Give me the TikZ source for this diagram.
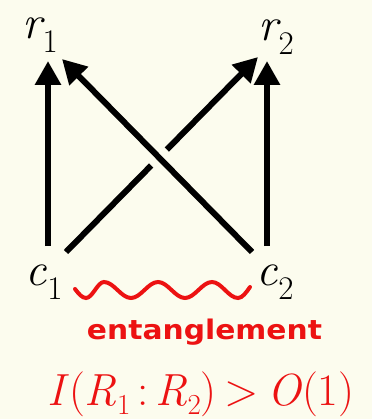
\documentclass[tikz,border=0pt]{standalone}
\usepackage{fontspec}
\newfontfamily\labsans{DejaVu Sans}
\usetikzlibrary{arrows.meta}
\definecolor{bgc}{RGB}{252,252,238}
\definecolor{myred}{RGB}{236,18,18}
\newcommand\varlab[2]{{\fontsize{47}{50}\selectfont\itshape #1}\kern1pt\raisebox{-14pt}{\fontsize{33}{35}\selectfont #2}}
\newcommand\fsub[1]{\raisebox{-9pt}{\fontsize{29}{31}\selectfont #1}}
\tikzset{
  arr/.style={line width=6pt, -{Triangle[length=24pt,width=25pt]}},
  lab/.style={inner sep=0pt, anchor=base west},
}
\begin{document}
\begin{tikzpicture}[x=1pt,y=-1pt]
\fill[bgc] (0,0) rectangle (372,419);
\useasboundingbox (0,0) rectangle (372,419);
% labels
\node[lab] (r1) at (22,39) {\varlab{r}{1}};
\node[lab] (r2) at (258,41) {\varlab{r}{2}};
\node[lab] (c1) at (25,285) {\varlab{c}{1}};
\node[lab] (c2) at (256,285) {\varlab{c}{2}};
% connector end points
\coordinate (c1v) at (48,246);
\coordinate (r1v) at (48,61);
\coordinate (c2v) at (267,246);
\coordinate (r2v) at (267,61);
\coordinate (c1d) at (66,252);
\coordinate (r2d) at (258,57);
\coordinate (c2d) at (252,252);
\coordinate (r1d) at (62,59);
% arrows
\draw[arr] (c1v) -- (r1v);
\draw[arr] (c2v) -- (r2v);
\draw[arr] (c1d) -- (r2d);
\draw[bgc, line width=22pt, shorten <=70pt, shorten >=70pt] (c2d) -- (r1d);
\draw[arr] (c2d) -- (r1d);
% entanglement wave
\coordinate (w0) at (75,289);
\coordinate (w1) at (250,287);
\draw[myred, line width=4pt, line cap=round]
  (w0) sin (86,298) cos (95,290) sin (104,282) cos (117.5,290) sin (131,298)
  cos (144.5,290) sin (158,282) cos (171.5,290) sin (185,298)
  cos (198.5,290) sin (212,282) cos (225,290) sin (238,298) cos (w1);
\node[inner sep=0pt, anchor=base, text=myred] (ent) at (204.5,339)
  {\resizebox{235pt}{\height}{\fontsize{27}{30}\selectfont\labsans\bfseries entanglement}};
\node[lab, text=myred] (ineq) at (47,405)
  {\fontsize{45}{50}\selectfont\textit{I}(\textit{R}\fsub{1}\kern7pt:\kern7pt\textit{R}\fsub{2})\kern8pt>\kern8pt\textit{O}(1)};
\end{tikzpicture}
\end{document}
